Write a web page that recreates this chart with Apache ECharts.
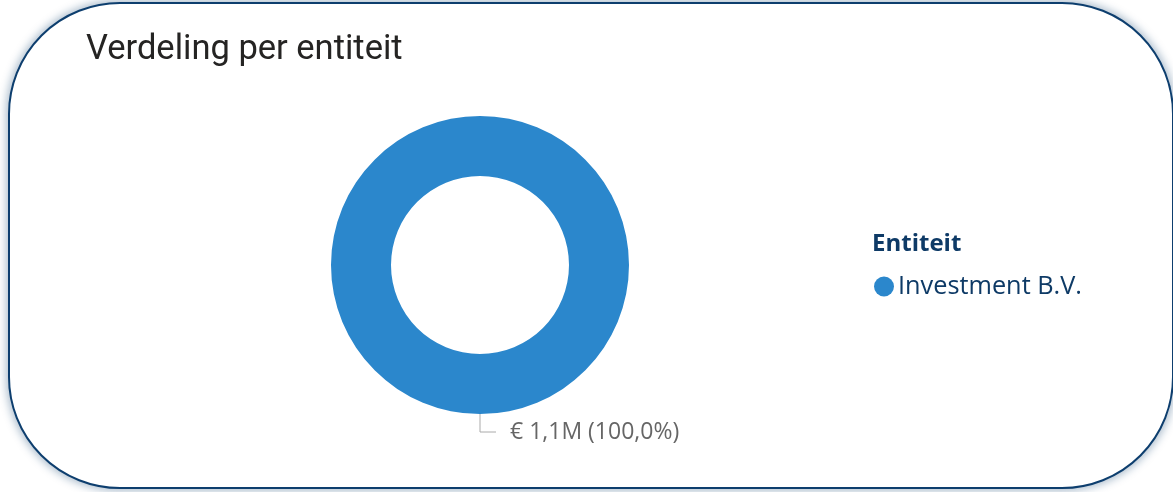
<!DOCTYPE html>
<html>
<head>
<meta charset="utf-8">
<script src="https://cdn.jsdelivr.net/npm/echarts@6/dist/echarts.min.js"></script>
<style>
  html, body { margin: 0; padding: 0; background: #fff; }
  .page { position: relative; width: 1173px; height: 492px; overflow: hidden; }
  .card {
    position: absolute;
    left: 8px; top: 2px; width: 1166px; height: 487px;
    box-sizing: border-box;
    border: 2px solid #0d3e6e;
    border-radius: 112px;
    box-shadow: 0 0 8px 2px rgba(13, 62, 110, 0.35);
    background: #fff;
  }
  #chart { position: absolute; left: 0; top: 0; width: 1173px; height: 492px; }
</style>
</head>
<body>
<div class="page">
  <div class="card"></div>
  <div id="chart"></div>
</div>
<script>
const chartTitle = 'Verdeling per entiteit';
const legendTitle = 'Entiteit';
const entities = ['Investment B.V.'];
const amounts = [1.1]; // in miljoen euro
const amountLabels = ['€ 1,1M (100,0%)'];
const colors = ['#2b87cc'];

const chart = echarts.init(document.getElementById('chart'), null, { renderer: 'canvas' });

const option = {
  backgroundColor: 'transparent',
  title: [
    {
      text: chartTitle,
      left: 81,
      top: 28,
      textStyle: {
        fontFamily: 'Roboto',
        fontWeight: 'normal',
        fontSize: 34.5,
        color: '#252423',
      },
    },
    {
      text: legendTitle,
      left: 867,
      top: 227,
      textStyle: {
        fontFamily: 'Open Sans',
        fontWeight: 'bold',
        fontSize: 24,
        color: '#0e3a66',
      },
    },
  ],
  legend: {
    orient: 'vertical',
    left: 869,
    top: 269,
    icon: 'circle',
    itemWidth: 20,
    itemHeight: 20,
    itemGap: 8,
    textStyle: {
      fontFamily: 'Open Sans',
      fontSize: 25.3,
      color: '#0e3a66',
      padding: [0, 0, 0, -1],
    },
    data: entities,
  },
  series: [
    {
      type: 'pie',
      center: [480, 265],
      radius: [89, 149],
      startAngle: 90,
      silent: true,
      data: entities.map((name, i) => ({
        name,
        value: amounts[i],
        itemStyle: { color: colors[i] },
        label: { formatter: amountLabels[i] },
      })),
      label: {
        show: true,
        position: 'outside',
        fontFamily: 'Open Sans',
        fontSize: 23,
        color: '#666666',
        distanceToLabelLine: 14,
        padding: [5, 0, 0, 0],
      },
      labelLine: {
        show: true,
        length: 18,
        length2: 16,
        lineStyle: { color: '#aaaaaa', width: 1 },
      },
    },
  ],
};

chart.setOption(option);
</script>
</body>
</html>
